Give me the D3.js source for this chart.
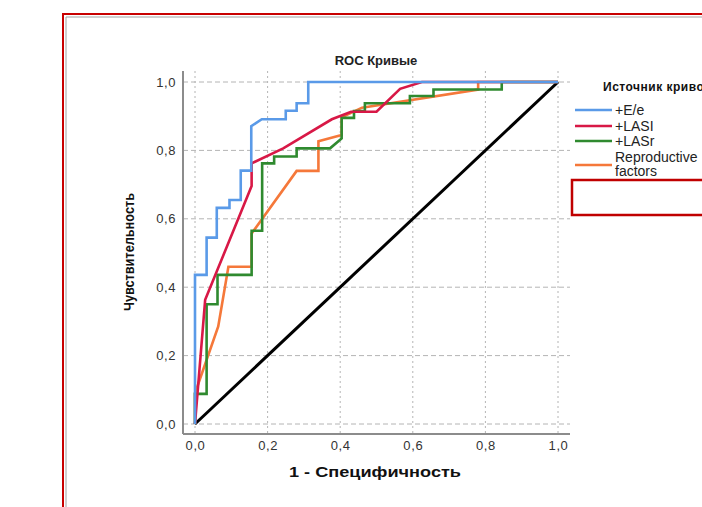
<!DOCTYPE html>
<html>
<head>
<meta charset="utf-8">
<script src="https://cdn.jsdelivr.net/npm/d3@7"></script>
<style>
body { margin: 0; background: #fff; }
text { font-family: "Liberation Sans", Arial, sans-serif; }
</style>
</head>
<body>
<script>
// ROC curve data (1 - specificity, sensitivity)
var seriesNames = ["+E/e", "+LASI", "+LASr", "Reproductive factors"];
var seriesColors = ["#5a9ae8", "#d81846", "#2f8a2f", "#f5783a"];

var fprEe   = [0, 0, 0.032, 0.032, 0.06, 0.06, 0.095, 0.095, 0.126, 0.126, 0.155, 0.155, 0.184, 0.25, 0.25, 0.28, 0.28, 0.312, 0.312, 1];
var tprEe   = [0, 0.436, 0.436, 0.545, 0.545, 0.632, 0.632, 0.655, 0.655, 0.741, 0.741, 0.871, 0.891, 0.891, 0.916, 0.916, 0.938, 0.938, 1, 1];

var fprLasi = [0, 0.028, 0.156, 0.156, 0.243, 0.377, 0.43, 0.5, 0.565, 0.625, 1];
var tprLasi = [0, 0.363, 0.696, 0.762, 0.806, 0.891, 0.913, 0.913, 0.98, 1, 1];

var fprLasr = [0, 0, 0.032, 0.032, 0.062, 0.062, 0.156, 0.156, 0.185, 0.185, 0.218, 0.218, 0.28, 0.28, 0.372, 0.404, 0.404, 0.438, 0.438, 0.468, 0.468, 0.592, 0.592, 0.657, 0.657, 0.845, 0.845, 1];
var tprLasr = [0, 0.088, 0.088, 0.35, 0.35, 0.436, 0.436, 0.565, 0.565, 0.762, 0.762, 0.782, 0.782, 0.806, 0.806, 0.835, 0.895, 0.895, 0.915, 0.915, 0.938, 0.938, 0.959, 0.959, 0.978, 0.978, 1, 1];

var fprRepr = [0, 0, 0.064, 0.092, 0.156, 0.156, 0.28, 0.34, 0.34, 0.404, 0.404, 0.46, 0.78, 0.78, 1];
var tprRepr = [0, 0.09, 0.285, 0.46, 0.46, 0.557, 0.74, 0.74, 0.827, 0.845, 0.897, 0.925, 0.978, 1, 1];

var refLine = [0, 1]; // diagonal reference
var tickValues = [0, 0.2, 0.4, 0.6, 0.8, 1];

var w = 702, h = 507;

var svg = d3.select("body").append("svg")
    .attr("width", w)
    .attr("height", h);

// outer frame (red) and inner grey border
svg.append("path")
    .attr("d", "M63," + h + "V14H" + w)
    .attr("fill", "none")
    .attr("stroke", "#c80000")
    .attr("stroke-width", 2);
svg.append("path")
    .attr("d", "M66," + h + "V17H" + w)
    .attr("fill", "none")
    .attr("stroke", "#a0a0a0")
    .attr("stroke-width", 1);

// scales
var x = d3.scaleLinear().domain([0, 1]).range([195, 558]);
var y = d3.scaleLinear().domain([0, 1]).range([424, 82]);
var plotLeft = 183, plotRight = 570, plotTop = 71, plotBottom = 434;

// grid
var grid = svg.append("g").attr("class", "grid");
grid.selectAll(".hgrid")
    .data(tickValues)
    .enter().append("line")
    .attr("x1", plotLeft).attr("x2", plotRight)
    .attr("y1", function(d){ return y(d); })
    .attr("y2", function(d){ return y(d); })
    .attr("stroke", "#b4b4b4")
    .attr("stroke-dasharray", "5,3");
grid.selectAll(".vgrid")
    .data(tickValues)
    .enter().append("line")
    .attr("y1", plotTop).attr("y2", plotBottom)
    .attr("x1", function(d){ return x(d); })
    .attr("x2", function(d){ return x(d); })
    .attr("stroke", "#b4b4b4")
    .attr("stroke-dasharray", "2,3");

// axes
var fmt = function(d){ return d3.format(".1f")(d).replace(".", ","); };

var yAxis = svg.append("g")
    .attr("transform", "translate(" + plotLeft + ",0)")
    .call(d3.axisLeft(y).tickValues(tickValues).tickFormat(fmt).tickSize(0).tickPadding(7));
var xAxis = svg.append("g")
    .attr("transform", "translate(0," + plotBottom + ")")
    .call(d3.axisBottom(x).tickValues(tickValues).tickFormat(fmt).tickSize(0).tickPadding(7));

[xAxis, yAxis].forEach(function(a){
    a.select(".domain").remove();
    a.selectAll("text")
        .attr("fill", "#333")
        .style("font-size", "13px")
        .style("letter-spacing", "0.6px")
        .style("font-family", "'Liberation Sans', Arial, sans-serif");
});

svg.append("line")
    .attr("x1", plotLeft).attr("x2", plotLeft)
    .attr("y1", plotTop).attr("y2", plotBottom)
    .attr("stroke", "#8c8c8c").attr("stroke-width", 2);
svg.append("line")
    .attr("x1", plotLeft).attr("x2", plotRight)
    .attr("y1", plotBottom).attr("y2", plotBottom)
    .attr("stroke", "#8c8c8c").attr("stroke-width", 2);

// curves
var curves = [
    {fpr: fprEe, tpr: tprEe},
    {fpr: fprLasi, tpr: tprLasi},
    {fpr: fprLasr, tpr: tprLasr},
    {fpr: fprRepr, tpr: tprRepr}
];

var line = d3.line()
    .x(function(d){ return x(d[0]); })
    .y(function(d){ return y(d[1]); });

// diagonal
svg.append("path")
    .datum(refLine.map(function(v){ return [v, v]; }))
    .attr("d", line)
    .attr("fill", "none")
    .attr("stroke", "#000")
    .attr("stroke-width", 3);

// draw in order: orange, green, red, blue on top
[3, 2, 1, 0].forEach(function(i){
    var c = curves[i];
    svg.append("path")
        .datum(c.fpr.map(function(v, j){ return [v, c.tpr[j]]; }))
        .attr("d", line)
        .attr("fill", "none")
        .attr("stroke", seriesColors[i])
        .attr("stroke-width", 2.6)
        .attr("stroke-linejoin", "miter");
});

// titles
svg.append("text")
    .attr("x", 376).attr("y", 65)
    .attr("text-anchor", "middle")
    .style("font-size", "13px")
    .style("font-weight", "bold")
    .attr("fill", "#222")
    .text("ROC Кривые");

svg.append("text")
    .attr("x", 375).attr("y", 477)
    .attr("text-anchor", "middle")
    .style("font-size", "15px")
    .style("font-weight", "bold")
    .attr("textLength", 172)
    .attr("lengthAdjust", "spacingAndGlyphs")
    .attr("fill", "#111")
    .text("1 - Специфичность");

svg.append("text")
    .attr("transform", "translate(134,252) rotate(-90)")
    .attr("text-anchor", "middle")
    .style("font-family", "'Liberation Sans Narrow', 'Liberation Sans', Arial, sans-serif")
    .style("font-size", "15px")
    .style("font-weight", "bold")
    .attr("textLength", 118)
    .attr("lengthAdjust", "spacingAndGlyphs")
    .attr("fill", "#111")
    .text("Чувствительность");

// legend
var legend = svg.append("g").attr("class", "legend");
legend.append("text")
    .attr("x", 603).attr("y", 91)
    .style("font-size", "12px")
    .style("font-weight", "bold")
    .style("letter-spacing", "0.5px")
    .attr("fill", "#111")
    .text("Источник кривой");

var legendY = [110, 126, 141, 165];
var labelY = [115, 131, 146, 162];
seriesNames.forEach(function(name, i){
    legend.append("line")
        .attr("x1", 575).attr("x2", 612)
        .attr("y1", legendY[i]).attr("y2", legendY[i])
        .attr("stroke", seriesColors[i])
        .attr("stroke-width", 2.6);
    var t = legend.append("text")
        .attr("x", 615).attr("y", labelY[i])
        .style("font-size", "14px")
        .attr("fill", "#222");
    var words = name.split(" ");
    if (words.length > 1) {
        t.append("tspan").attr("x", 615).text(words[0]);
        t.append("tspan").attr("x", 615).attr("dy", 14).text(words[1]);
    } else {
        t.text(name);
    }
});

legend.append("rect")
    .attr("x", 572).attr("y", 180)
    .attr("width", 160).attr("height", 35)
    .attr("fill", "none")
    .attr("stroke", "#c00000")
    .attr("stroke-width", 2.5);
</script>
</body>
</html>
